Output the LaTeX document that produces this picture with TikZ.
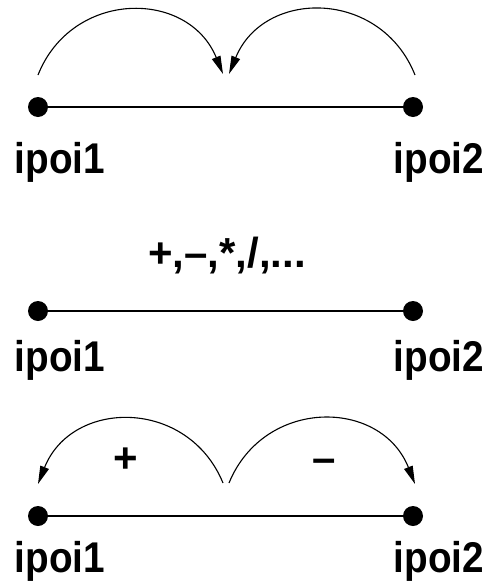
\documentclass[tikz,border=0pt]{standalone}
\usepackage{fontspec}
\setmainfont{Liberation Sans}
\newfontfamily\narrowsans{Liberation Sans}[FakeStretch=0.9]
\usetikzlibrary{arrows.meta,positioning}

\tikzset{
  ptdot/.style={circle,fill=black,inner sep=0pt,minimum size=20pt},
  seg/.style={line width=1.3pt},
  hop/.style={line width=1.1pt,-{Triangle[length=18pt,width=9pt]}},
  lbl/.style={font=\narrowsans\fontsize{43}{48}\selectfont\bfseries,inner sep=0pt,anchor=base},
  oplbl/.style={font=\fontsize{42}{48}\selectfont\bfseries,inner sep=0pt,anchor=base},
}

\begin{document}
\begin{tikzpicture}[x=1pt,y=-1pt]
    \useasboundingbox (0,0) rectangle (489,587);

    % Top row
    \node[ptdot] (ta) at (38,107) {};
    \node[ptdot] (tb) at (413,107) {};
    \draw[seg] (ta) -- (tb);
    \node[lbl] (tla) at (60,173) {ipoi1};
    \node[lbl] (tlb) at (439,173) {ipoi2};
    \coordinate (ts1) at (38,75);
    \coordinate (te1) at (223,74);
    \coordinate (ts2) at (415,75);
    \coordinate (te2) at (229,74);
    \draw[hop] (ts1) to[bend left=68,looseness=1.27] (te1);
    \draw[hop] (ts2) to[bend right=68,looseness=1.27] (te2);

    % Middle row
    \node[oplbl] (ops) at (227,267) {+,–,*,/,...};
    \node[ptdot] (ma) at (38,311) {};
    \node[ptdot] (mb) at (413,311) {};
    \draw[seg] (ma) -- (mb);
    \node[lbl] (mla) at (60,371) {ipoi1};
    \node[lbl] (mlb) at (439,371) {ipoi2};

    % Bottom row
    \node[ptdot] (ba) at (38,516) {};
    \node[ptdot] (bb) at (413,516) {};
    \draw[seg] (ba) -- (bb);
    \node[lbl] (bla) at (60,572) {ipoi1};
    \node[lbl] (blb) at (439,572) {ipoi2};
    \coordinate (bs1) at (223,483);
    \coordinate (be1) at (38,484);
    \coordinate (bs2) at (229,483);
    \coordinate (be2) at (415,484);
    \draw[hop] (bs1) to[bend right=68,looseness=1.27] (be1);
    \draw[hop] (bs2) to[bend left=68,looseness=1.27] (be2);
    \node[oplbl] (plus) at (126,472) {+};
    \node[oplbl] (minus) at (324,472) {–};
\end{tikzpicture}
\end{document}
